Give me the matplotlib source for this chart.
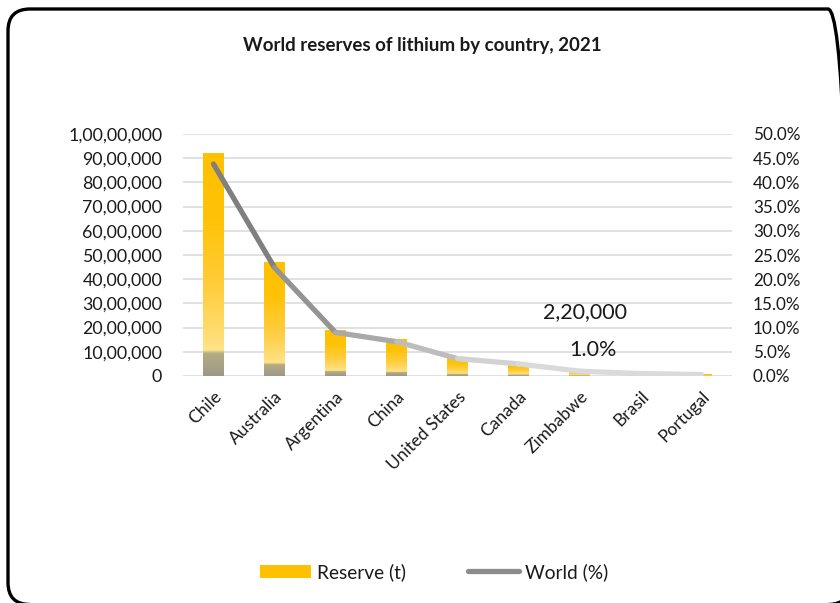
import numpy as np
import matplotlib
matplotlib.use("Agg")
import matplotlib.pyplot as plt
from matplotlib.collections import LineCollection
from matplotlib.colors import LinearSegmentedColormap, to_rgb
from matplotlib.patches import FancyBboxPatch, Patch
from matplotlib.lines import Line2D
from matplotlib.ticker import FuncFormatter, MultipleLocator

plt.rcParams['font.family'] = ['Lato', 'DejaVu Sans']

countries = ["Chile", "Australia", "Argentina", "China", "United States",
             "Canada", "Zimbabwe", "Brasil", "Portugal"]
reserve_t = [9200000, 4700000, 1900000, 1500000, 750000, 530000, 220000, 95000, 60000]
world_pct = [43.8, 22.4, 9.0, 7.1, 3.6, 2.5, 1.0, 0.5, 0.3]

TITLE = "World reserves of lithium by country, 2021"
TEXT = "#1a1a1a"
GRID = "#D9D9D9"


def indian_format(v, _pos=None):
    n = int(round(v))
    s = str(abs(n))
    if len(s) > 3:
        head, tail = s[:-3], s[-3:]
        groups = []
        while len(head) > 2:
            groups.insert(0, head[-2:])
            head = head[:-2]
        if head:
            groups.insert(0, head)
        s = ",".join(groups) + "," + tail
    return ("-" if n < 0 else "") + s


W, H, DPI = 840, 603, 100
fig = plt.figure(figsize=(W / DPI, H / DPI), dpi=DPI)

# rounded frame around the chart (inch coordinates keep the corners circular)
px = 1 / DPI
frame = FancyBboxPatch((8 * px, -1.5 * px), (850 - 8) * px, (594 + 1.5) * px,
                       boxstyle=f"round,pad=0,rounding_size={22 * px}",
                       transform=fig.dpi_scale_trans, fill=False,
                       edgecolor="black", linewidth=2.4, zorder=0)
fig.patches.append(frame)

ax = fig.add_axes([183 / W, 1 - 376 / H, (732 - 183) / W, (376 - 134) / H])
ax2 = ax.twinx()

x = np.arange(len(countries))

# bars with a vertical gradient fill
bar_cmap = LinearSegmentedColormap.from_list("bar", [
    (0.00, "#9C9886"),
    (0.10, "#B5AC84"),
    (0.115, "#FFE48A"),
    (0.20, "#FFDB6E"),
    (0.40, "#FFCD3C"),
    (0.70, "#FFC207"),
    (1.00, "#FFC000"),
])
bars = ax.bar(x, reserve_t, width=0.33, color="#FFC000", zorder=2)
grad = np.linspace(0, 1, 256).reshape(-1, 1)
for b in bars:
    bx, bw, bh = b.get_x(), b.get_width(), b.get_height()
    ax.imshow(grad, cmap=bar_cmap, origin="lower", aspect="auto",
              extent=(bx, bx + bw, 0, bh), zorder=3, interpolation="bilinear")
ax.set_xlim(-0.5, len(countries) - 0.5)
ax.set_ylim(0, 10000000)
ax2.set_ylim(0, 50)

# share line, shaded from dark to light grey
pts = np.column_stack([x, world_pct])
segs = np.stack([pts[:-1], pts[1:]], axis=1)
c0, c1 = np.array(to_rgb("#7F7F7F")), np.array(to_rgb("#DADADA"))
t = np.clip(np.linspace(0, 1, len(segs)) * 1.6, 0, 1)
cols = [tuple(c0 + (c1 - c0) * ti) for ti in t]
lc = LineCollection(segs, colors=cols, linewidths=3.8, capstyle="round",
                    joinstyle="round", zorder=4)
ax2.add_collection(lc)

# data labels for Zimbabwe
zi = countries.index("Zimbabwe")
ax.annotate(indian_format(reserve_t[zi]), (x[zi], reserve_t[zi]),
            xytext=(4, 42), textcoords="offset points", ha="center", va="center",
            fontsize=15.5, color=TEXT, zorder=6)
ax2.annotate(f"{world_pct[zi]:.1f}%", (x[zi], world_pct[zi]),
             xytext=(10, 15), textcoords="offset points", ha="center", va="center",
             fontsize=15.5, color=TEXT, zorder=6)

# axes styling
ax.yaxis.set_major_locator(MultipleLocator(1000000))
ax.yaxis.set_major_formatter(FuncFormatter(indian_format))
ax2.yaxis.set_major_locator(MultipleLocator(5))
ax2.yaxis.set_major_formatter(FuncFormatter(lambda v, p: f"{v:.1f}%"))
ax.grid(axis="y", color=GRID, linewidth=1.1, zorder=0)
ax.set_axisbelow(True)
for a in (ax, ax2):
    for s in a.spines.values():
        s.set_visible(False)
    a.tick_params(length=0, labelsize=12.3, colors=TEXT)
ax.tick_params(axis="y", pad=15, labelsize=12.8)
ax2.tick_params(axis="y", pad=15)
ax.set_xticks(x)
ax.set_xticklabels(countries, rotation=45, ha="right", rotation_mode="anchor")
ax.tick_params(axis="x", pad=9, labelsize=12.5)
ax.set_zorder(ax2.get_zorder() - 1)
ax.patch.set_visible(False)

fig.text(422 / W, 1 - 45 / H, TITLE, ha="center", va="center",
         fontsize=13.5, fontweight="bold", color=TEXT)

handles = [Patch(facecolor="#FFC000", edgecolor="none"),
           Line2D([], [], color="#8C8C8C", linewidth=3.8, solid_capstyle="round")]
fig.legend(handles, ["Reserve (t)", "World (%)"], loc="center",
           bbox_to_anchor=(434 / W, 1 - 572 / H), ncol=2, frameon=False,
           fontsize=13.8, handlelength=2.7, handleheight=0.7,
           handletextpad=0.3, columnspacing=3.2, labelcolor=TEXT)

fig.savefig("out.png", dpi=DPI)
